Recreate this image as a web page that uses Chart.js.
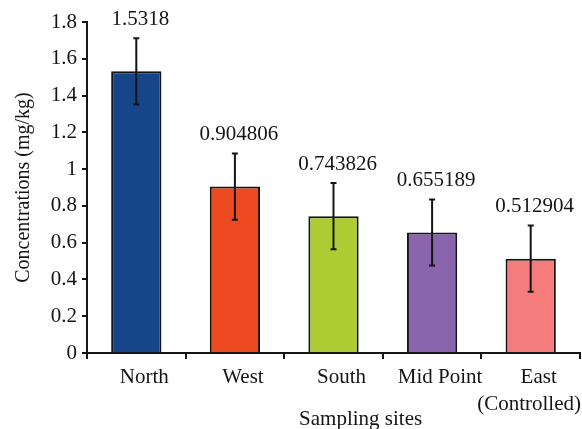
<!DOCTYPE html>
<html><head><meta charset="utf-8">
<script src="https://cdn.jsdelivr.net/npm/chart.js@4/dist/chart.umd.min.js"></script>
<style>html,body{margin:0;padding:0;background:#fff}#wrap{width:582px;height:429px}</style>
</head><body><div id="wrap"><canvas id="c" width="582" height="429"></canvas></div>
<script>
const categories = ['North', 'West', 'South', 'Mid Point', ['East', '(Controlled)']];
const values = [1.5318, 0.904806, 0.743826, 0.655189, 0.512904];
const valueLabels = ['1.5318', '0.904806', '0.743826', '0.655189', '0.512904'];
const errors = [0.18, 0.18, 0.18, 0.18, 0.18];
const barColors = ['#164689', '#EE4A22', '#ADCB33', '#8A64AC', '#F47C7D'];
const yMin = 0, yMax = 1.8, yStep = 0.2;
const xTitle = 'Sampling sites';
const yTitle = 'Concentrations (mg/kg)';

const FONT = "'Liberation Serif', 'Times New Roman', serif";
const INK = '#151515';

const errorAndLabels = {
  id: 'errorAndLabels',
  afterDatasetsDraw(chart) {
    const ctx = chart.ctx;
    const meta = chart.getDatasetMeta(0);
    const ys = chart.scales.y;
    const xs = chart.scales.x;
    ctx.save();
    ctx.strokeStyle = INK;
    ctx.lineWidth = 2;
    ctx.fillStyle = INK;
    ctx.font = '21px ' + FONT;
    ctx.textAlign = 'center';
    ctx.textBaseline = 'middle';
    meta.data.forEach((bar, i) => {
      const x = bar.x;
      const top = ys.getPixelForValue(values[i] + errors[i]);
      const bot = ys.getPixelForValue(values[i] - errors[i]);
      ctx.beginPath();
      ctx.moveTo(x, top); ctx.lineTo(x, bot);
      ctx.moveTo(x - 3, top); ctx.lineTo(x + 3, top);
      ctx.moveTo(x - 3, bot); ctx.lineTo(x + 3, bot);
      ctx.stroke();
      ctx.fillText(valueLabels[i], x + 4, top - 19);
    });
    // category labels (offset slightly right, kept inside the canvas)
    const W = chart.width;
    categories.forEach((lab, i) => {
      const lines = Array.isArray(lab) ? lab : [lab];
      const cx = xs.getPixelForValue(i);
      lines.forEach((ln, k) => {
        const w = ctx.measureText(ln).width;
        const x = Math.min(cx + 8, W - 1 - w / 2);
        ctx.fillText(ln, x, xs.top + 24 + k * 27);
      });
    });
    // x axis title
    ctx.fillText(xTitle, xs.left + (xs.right - xs.left) * 0.555, 419);
    ctx.restore();
  }
};

new Chart(document.getElementById('c'), {
  type: 'bar',
  data: {
    labels: categories,
    datasets: [{
      data: values,
      backgroundColor: barColors,
      borderColor: INK,
      borderWidth: 2,
      barPercentage: 0.51,
      categoryPercentage: 1.0
    }]
  },
  options: {
    responsive: false,
    devicePixelRatio: 1,
    animation: false,
    layout: { padding: { top: 22, right: 2, bottom: 0, left: 0 } },
    plugins: { legend: { display: false }, tooltip: { enabled: false } },
    scales: {
      x: {
        grid: { display: true, drawOnChartArea: false, drawTicks: true, tickLength: 6, color: INK, lineWidth: 2 },
        border: { display: true, color: INK, width: 2 },
        ticks: { display: false },
        title: { display: false },
        afterFit(s) { s.height = 76; s.paddingLeft = 0; s.paddingRight = 0; }
      },
      y: {
        min: yMin, max: yMax,
        grid: { display: true, drawOnChartArea: false, drawTicks: true, tickLength: 5, color: INK, lineWidth: 2 },
        border: { display: true, color: INK, width: 2 },
        ticks: {
          stepSize: yStep, color: INK, font: { family: FONT, size: 21 }, padding: 5,
          callback: (v) => String(Number(v.toFixed(1)))
        },
        title: { display: true, text: yTitle, color: INK, font: { family: FONT, size: 20, lineHeight: 1.2 }, padding: { top: 12, bottom: 0 } },
        afterFit(s) { s.width = 87; s.paddingTop = 0; s.paddingBottom = 0; }
      }
    }
  },
  plugins: [errorAndLabels]
});
</script>
</body></html>
